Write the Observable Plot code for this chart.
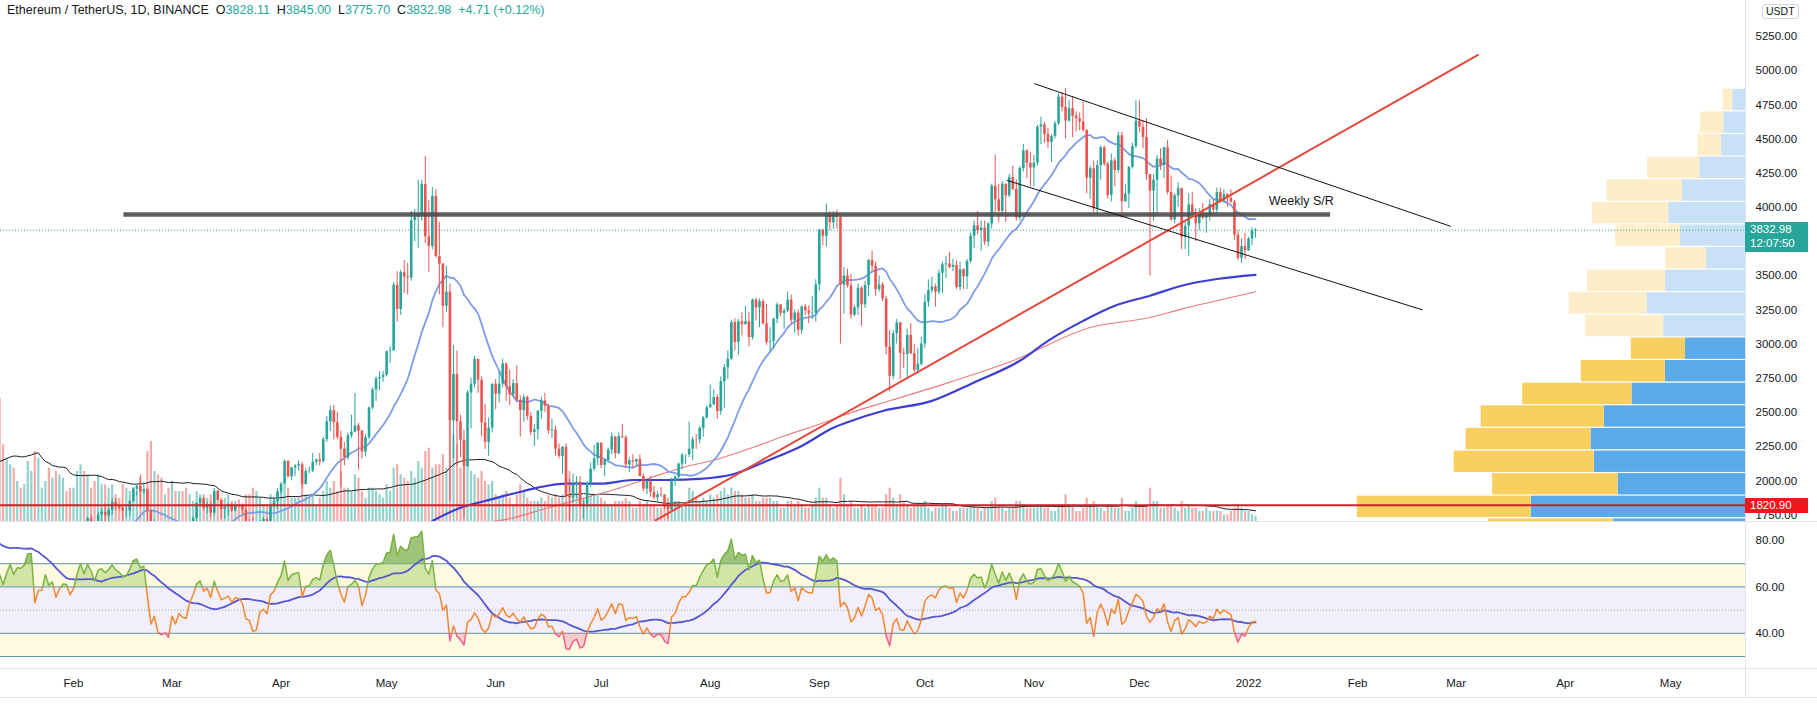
<!DOCTYPE html>
<html><head><meta charset="utf-8">
<script src="https://cdn.jsdelivr.net/npm/d3@7"></script>
<script src="https://cdn.jsdelivr.net/npm/@observablehq/plot@0.6"></script>
<style>
body{margin:0;background:#fff;}
#wrap{position:relative;width:1817px;height:707px;overflow:hidden;background:#fff;font-family:"Liberation Sans",Arial,sans-serif;}
.hl{position:absolute;background:#e0e3eb;}
.lbl{position:absolute;color:#fff;font-size:11.5px;line-height:14px;padding-left:5px;box-sizing:border-box;}
</style></head><body><div id="wrap"></div>
<script>
// ---------------- DATA ----------------
const startDay = "2021-01-11";
const warmupClose = [568,590,586,588,636,642,654,659,638,608,635,584,612,626,635,683,731,731,751,737,730,774,975,1040,1100,1207,1225,1224,1281,1262];
const warmupVolume = [1300,1000,800,1000,1300,1400,1100,1200,1000,1200,1500,3900,3500,2500,2800,2000,1900,1300,1500];
const close = [
1090,1044,1131,1218,1171,1233,1231,1257,1377,1382,1122,1232,1233,1392,1324,1357,1253,1332,1383,1381,1314,
1369,1515,1660,1593,1723,1680,1614,1750,1769,1744,1784,1843,1814,1800,1779,1781,1848,1938,1960,1919,1935,1778,1570,1626,1473,1446,1459,1416,
1564,1492,1575,1541,1532,1654,1724,1834,1868,1799,1826,1764,1924,1855,1791,1806,1823,1782,1818,1813,1785,1680,1669,1585,1594,1701,1717,1690,1817,1846,1919,
1977,2143,2029,2093,2107,2118,1972,2068,2072,2135,2153,2140,2301,2432,2513,2425,2318,2232,2168,2330,2356,2402,2363,2211,2316,2533,2664,2746,2756,2772,
2945,2950,3431,3253,3522,3490,3484,3903,3928,3952,4168,3785,3715,4079,3641,3585,3277,3380,2440,2777,2432,2297,2104,2643,2706,2888,2736,2424,2282,2386,2706,
2634,2707,2855,2688,2630,2711,2589,2514,2610,2472,2354,2372,2508,2585,2546,2365,2371,2231,2178,2245,1889,1874,1967,1990,1813,1829,1981,2085,2161,2274,
2113,2150,2226,2322,2198,2323,2316,2116,2147,2138,2155,2032,1940,1994,1916,1876,1898,1895,1820,1788,1994,2026,2122,2187,2189,2231,2300,2299,2383,2461,2533,
2556,2609,2507,2725,2827,2890,3157,3012,3163,3141,3164,3048,3322,3265,3310,3148,3011,3017,3182,3287,3225,3242,3322,3174,3227,3101,3272,3243,3224,3226,3433,
3834,3789,3941,3887,3952,3927,3431,3498,3427,3212,3266,3409,3287,3429,3612,3570,3398,3433,3330,2977,2764,3077,3155,2932,2925,3064,2930,2808,2853,3001,
3307,3391,3418,3380,3518,3580,3587,3561,3576,3415,3544,3492,3605,3789,3866,3830,3848,3746,3878,4155,4055,3971,4170,4084,4218,4132,3923,4285,4414,4322,4288,
4324,4587,4603,4533,4476,4519,4612,4806,4732,4632,4722,4667,4648,4625,4562,4214,4283,3991,4305,4436,4317,4088,4340,4270,4524,4041,4098,4293,4445,4631,
4587,4512,4240,4119,4199,4353,4308,4436,4110,3908,4085,4137,3782,3862,4018,3960,3881,3960,3922,3939,4020,3981,4108,4047,4093,4066,4037,3797,3628,3713,3682,
3769,3828.27,3832.98];
const high = [
1266,1150,1135,1249,1250,1290,1260,1260,1440,1400,1385,1270,1270,1420,1476,1370,1360,1350,1440,1395,1385,
1375,1540,1672,1695,1735,1750,1680,1765,1800,1830,1800,1870,1870,1830,1820,1825,1860,1950,1970,2042,1990,1940,1785,1715,1670,1560,1525,1470,
1570,1600,1650,1622,1546,1670,1735,1840,1875,1880,1840,1850,1945,1930,1860,1820,1835,1835,1830,1860,1830,1820,1720,1730,1630,1710,1730,1730,1830,1860,1945,
1990,2150,2145,2100,2120,2145,2135,2090,2100,2200,2160,2200,2320,2470,2545,2550,2500,2365,2280,2350,2480,2640,2420,2370,2340,2540,2680,2760,2798,2800,
2950,2985,3450,3530,3540,3610,3590,3970,3985,4200,4200,4372,4050,4145,4130,3890,3590,3570,3440,2990,2950,2480,2370,2660,2750,2910,2890,2760,2560,2460,2710,
2740,2800,2890,2860,2810,2740,2840,2620,2630,2620,2500,2410,2515,2610,2640,2560,2450,2400,2270,2250,2270,2010,2050,2030,2030,1860,1990,2130,2260,2280,
2280,2160,2240,2350,2320,2350,2410,2330,2170,2190,2160,2190,2050,2000,2030,1960,1920,1950,1900,1830,2020,2040,2130,2200,2190,2430,2320,2340,2400,2470,2550,
2700,2665,2630,2760,2850,2950,3175,3185,3180,3230,3275,3230,3330,3335,3330,3325,3290,3120,3190,3300,3285,3260,3380,3360,3250,3250,3280,3290,3280,3350,3470,
3840,3840,4025,3970,3970,3980,3950,3560,3550,3510,3280,3440,3420,3460,3620,3680,3600,3500,3450,3350,3100,3100,3180,3160,2970,3110,3150,3000,2970,3050,
3360,3470,3490,3440,3540,3600,3640,3670,3620,3610,3600,3550,3620,3810,3900,3970,3900,3900,3890,4170,4380,4170,4190,4160,4240,4300,4200,4300,4460,4420,4400,
4380,4600,4660,4620,4580,4530,4630,4830,4840,4868,4780,4810,4700,4690,4770,4570,4300,4340,4340,4450,4450,4330,4390,4360,4550,4550,4170,4300,4470,4780,
4780,4630,4650,4240,4240,4380,4430,4440,4490,4230,4100,4180,4140,3890,4100,4110,3990,3990,4030,3960,4060,4060,4140,4140,4130,4100,4130,4050,3830,3770,3810,
3780,3850,3845];
const low = [
920,1010,1016,1100,1050,1160,1165,1190,1250,1280,1110,1030,1200,1220,1300,1260,1220,1230,1270,1320,1290,
1300,1350,1500,1520,1580,1650,1550,1560,1700,1690,1700,1750,1780,1780,1660,1730,1740,1840,1890,1800,1900,1560,1370,1510,1460,1400,1430,1290,
1410,1470,1490,1510,1440,1520,1635,1700,1810,1780,1760,1730,1740,1850,1720,1720,1740,1770,1770,1800,1750,1670,1650,1570,1550,1590,1680,1680,1680,1800,1790,
1900,1970,2020,2000,2030,2070,1940,1970,2050,2060,2110,2110,2130,2280,2360,2300,2300,1950,2110,2150,2310,2350,2080,2160,2175,2300,2520,2580,2660,2720,
2760,2860,2950,3160,3210,3370,3360,3460,3750,3700,3900,3735,3525,3690,3630,3360,3120,3230,1850,2160,2110,2170,1730,2100,2380,2680,2640,2320,2230,2180,2350,
2520,2570,2680,2580,2550,2610,2580,2320,2430,2440,2330,2250,2300,2450,2500,2340,2310,2180,2160,2050,1880,1700,1840,1870,1800,1720,1800,1950,2070,2110,
2090,2030,2140,2190,2160,2190,2310,2090,2060,2090,2100,2030,1920,1900,1880,1860,1850,1880,1790,1718,1780,1960,2000,2080,2120,2170,2150,2230,2270,2320,2450,
2540,2550,2450,2480,2530,2740,2880,2950,2920,3060,3140,2980,3030,3170,3120,3140,2990,2940,2960,3150,3200,3110,3230,3150,3080,3060,3070,3210,3150,3180,3160,
3390,3720,3710,3830,3840,3840,3000,3220,3410,3180,3200,3210,3130,3260,3350,3530,3350,3380,3310,2920,2650,2740,3000,2740,2820,2740,2920,2790,2780,2840,
2970,3270,3370,3270,3360,3370,3480,3550,3530,3400,3390,3400,3400,3590,3700,3800,3680,3720,3710,3840,3960,3890,3950,3890,4070,4120,3900,3900,4260,4210,4150,
4150,4300,4460,4470,4430,4330,4500,4600,4700,4500,4620,4510,4550,4560,4550,4100,4060,3960,3950,4200,4300,4060,4040,4150,4250,3920,4040,3990,4280,4430,
4550,4430,4200,3500,3900,3950,4270,4210,4090,3900,3880,4000,3690,3690,3640,3950,3750,3830,3910,3810,3900,3950,3950,4030,4030,4000,4030,3760,3610,3590,3620,
3680,3720,3775.7];
const lastOpen = 3828.11;
// volume, thousand ETH
const volume = [
3700,2300,1900,1700,1600,1200,1000,1100,1800,1500,2100,1900,1000,1200,1600,1300,1500,1400,1300,900,1000,
1000,1500,1700,1500,1400,1000,1200,1400,1100,1100,1000,1100,800,700,1100,1000,900,1000,900,1300,900,2100,2400,1500,1400,1300,800,1000,
1200,900,900,900,1000,800,600,900,800,800,700,800,800,600,700,700,800,600,600,500,500,800,800,1000,900,700,500,500,800,700,900,
900,1100,1000,700,700,700,1100,800,700,800,500,700,900,1200,1000,1200,900,1500,1000,1000,900,1400,1300,900,700,1000,1000,900,800,700,
1100,900,1600,1700,1400,1300,1200,1500,1300,1800,1600,2100,2200,1600,1700,1700,2000,1600,3200,2600,2300,1600,2400,1800,1500,1400,1300,1500,1200,1100,1200,
800,700,800,900,700,500,800,1100,900,700,600,600,600,700,600,800,700,800,700,800,1400,1500,1000,800,900,700,700,800,800,800,
700,600,500,500,600,600,600,700,600,400,400,600,500,600,500,500,400,400,500,700,900,600,600,500,500,1000,900,700,600,700,600,
800,700,800,900,1000,800,1000,900,900,800,700,700,800,600,600,700,700,700,600,600,400,400,600,600,500,600,500,400,400,500,700,
1000,700,700,500,400,500,1300,800,500,600,400,400,500,400,500,500,500,400,400,800,1000,700,500,800,600,500,400,500,500,500,
600,400,300,400,400,500,500,400,300,300,400,400,400,500,500,400,300,400,400,600,700,500,400,300,400,400,600,600,500,400,400,
400,500,500,400,400,300,300,500,500,800,500,500,300,300,400,700,500,600,500,400,300,500,500,400,400,700,300,300,400,600,
500,400,500,1000,600,600,400,400,500,500,400,300,600,400,500,400,400,300,300,400,300,300,300,300,200,200,300,400,500,400,300,
300,200,150];

// moving averages
const ma200Dates = ["2021-05-14","2021-05-22","2021-05-29","2021-06-07","2021-06-13","2021-06-21","2021-07-01","2021-07-10","2021-07-20","2021-07-29","2021-08-08","2021-08-17","2021-08-27","2021-09-05","2021-09-10","2021-09-19","2021-10-03","2021-10-15","2021-10-28","2021-11-05","2021-11-15","2021-11-24","2021-12-04","2021-12-13","2021-12-23","2022-01-03"];
const ma200Values = [1706,1803,1852,1913,1950,1979,1979,2006,2006,2014,2052,2145,2255,2389,2438,2511,2585,2720,2878,3024,3170,3280,3354,3427,3476,3507];
const smaRedDates = ["2021-05-27","2021-06-04","2021-06-16","2021-07-05","2021-07-15","2021-07-24","2021-08-03","2021-08-13","2021-08-22","2021-09-01","2021-09-10","2021-09-21","2021-10-08","2021-10-26","2021-11-17","2021-12-04","2021-12-13","2021-12-23","2022-01-03"];
const smaRedValues = [1690,1718,1803,1938,2023,2096,2158,2243,2328,2414,2499,2585,2720,2878,3121,3195,3256,3317,3383];
const rsiMaPeriod = 20;

// drawings
const trendDates = ["2021-07-16T10:00Z","2022-03-07T06:00Z"];
const trendPrices = [1710,5115];
const channelUpperDates = ["2021-11-01T06:00Z","2022-02-27T10:00Z"];
const channelUpperPrices = [4904,3862];
const channelLowerDates = ["2021-10-24T10:00Z","2022-02-19T09:00Z"];
const channelLowerPrices = [4197,3251];
const srLevel = 3948;
const srDates = ["2021-02-15T08:00Z","2022-01-24T08:00Z"];
const srLabel = "Weekly S/R";
const srLabelAt = {date:"2022-01-06T18:00Z", price:4050};
const pocPrice = 1820.90;
const currentPrice = 3832.98;
const countdown = "12:07:50";

// visible range volume profile (M ETH per row)
const profileRowLow = [4703,4537,4372,4207,4041,3876,3711,3545,3380,3215,3049,2884,2719,2553,2388,2223,2057,1892,1727,1561];
const profileRowSize = 165.3;
const profileUp =   [0.89,1.52,1.70,3.20,4.41,5.37,4.55,2.73,5.60,6.88,5.72,4.20,5.60,7.93,9.87,10.80,10.57,8.91,14.98,9.22];
const profileDown = [0.68,1.63,1.63,3.64,5.27,5.32,4.53,2.85,5.44,5.44,5.48,3.78,5.88,7.65,8.61,8.73,9.80,8.77,12.16,8.75];
const valueAreaFrom = 11; // row index (0-based) where value area starts

const priceTicks = [1750,2000,2250,2500,2750,3000,3250,3500,4000,4250,4500,4750,5000,5250];
const rsiTicks = [40,60,80];
const monthTicks = ["2021-02-01","2021-03-01","2021-04-01","2021-05-01","2021-06-01","2021-07-01","2021-08-01","2021-09-01","2021-10-01","2021-11-01","2021-12-01","2022-01-01","2022-02-01","2022-03-01","2022-04-01","2022-05-01"];
const header = {name:"Ethereum / TetherUS, 1D, BINANCE", O:"3828.11", H:"3845.00", L:"3775.70", C:"3832.98", chg:"+4.71 (+0.12%)"};

// ---------------- BUILD ----------------
if (close.length!==high.length||close.length!==low.length||close.length!==volume.length) throw new Error("len "+close.length+" "+high.length+" "+low.length+" "+volume.length);
const DAY = 864e5;
const t0 = new Date(startDay+"T00:00:00Z").getTime();
const nW = warmupClose.length;
const closesAll = warmupClose.concat(close);
function sma(arr,n){return arr.map((_,i)=> i<n-1?NaN:d3.mean(arr.slice(i-n+1,i+1)));}
function rsi(arr,n=14){const out=new Array(arr.length).fill(NaN);let g=0,l=0;
  for(let i=1;i<arr.length;i++){const ch=arr[i]-arr[i-1];const up=Math.max(ch,0),dn=Math.max(-ch,0);
    if(i<=n){g+=up;l+=dn;if(i===n){g/=n;l/=n;out[i]=100-100/(1+g/l);}}
    else{g=(g*(n-1)+up)/n;l=(l*(n-1)+dn)/n;out[i]=l===0?100:100-100/(1+g/l);}}
  return out;}
const sma20 = sma(closesAll,20).slice(nW);
const rsiAll = rsi(closesAll);
const rsiV = rsiAll.slice(nW);
const rsiMA = sma(rsiAll,rsiMaPeriod).slice(nW);
const volMA = sma(warmupVolume.concat(volume),20).slice(warmupVolume.length);

const candles = close.map((c,i)=>({date:new Date(t0+i*DAY), open:i?close[i-1]:warmupClose[nW-1], high:high[i], low:low[i], close:c, volume:volume[i], sma20:sma20[i], volMA:volMA[i], rsi:rsiV[i], rsiMA:rsiMA[i]}));
candles[candles.length-1].open = lastOpen;
candles.forEach(d=>{d.up=d.close>=d.open;});

const ma200 = ma200Dates.map((d,i)=>({date:new Date(d+"T00:00:00Z"), v:ma200Values[i]}));
const smaRed = smaRedDates.map((d,i)=>({date:new Date(d+"T00:00:00Z"), v:smaRedValues[i]}));
const pts2 = (ds,ps)=>ds.map((d,i)=>({date:new Date(d), v:ps[i]}));
const trend = pts2(trendDates,trendPrices), chU = pts2(channelUpperDates,channelUpperPrices), chL = pts2(channelLowerDates,channelLowerPrices);
const rows = profileRowLow.map((lo,i)=>({lo, hi:lo+profileRowSize, up:profileUp[i], down:profileDown[i], va:i>=valueAreaFrom}));

const W=1817, AX=72, PH=521;
const xDomain=[new Date("2021-01-11T06:00:00Z"), new Date("2022-05-22T06:30:00Z")];
const yDomain=[1702.5,5513.3];
const FONT='"Liberation Sans", Arial, sans-serif';
const wrap=document.getElementById("wrap");
function place(el,top){el.style.position="absolute";el.style.left="0px";el.style.top=top+"px";wrap.appendChild(el);}
const UP="#26a69a", DN="#ef5350";

// volume layer
const VH=140;
place(Plot.plot({width:W,height:VH,marginLeft:0,marginRight:AX,marginTop:0,marginBottom:0,
  style:{background:"transparent",overflow:"visible"},
  x:{type:"utc",domain:xDomain,axis:null}, y:{domain:[0,4200],axis:null},
  marks:[
    Plot.ruleX(candles,{x:"date",y1:()=>0,y2:"volume",stroke:d=>d.up?"rgba(38,166,154,0.5)":"rgba(239,83,80,0.5)",strokeWidth:2.2,clip:true}),
    Plot.line(candles.filter(d=>!isNaN(d.volMA)),{x:"date",y:"volMA",stroke:"#1e1e1e",strokeWidth:1,clip:true})
  ]}), PH-VH);

// volume profile layer
place(Plot.plot({width:W,height:PH,marginLeft:0,marginRight:AX,marginTop:0,marginBottom:0,
  style:{background:"transparent"},
  x:{domain:[0,122],reverse:true,axis:null}, y:{domain:yDomain,axis:null},
  marks:[
    Plot.rect(rows,{x1:()=>0,x2:"up",y1:"lo",y2:"hi",fill:d=>d.va?"#5aaae9":"#c8e1f6",insetTop:0.6,insetBottom:0.6,clip:true}),
    Plot.rect(rows,{x1:"up",x2:d=>d.up+d.down,y1:"lo",y2:"hi",fill:d=>d.va?"#f9cf5f":"#fdedc9",insetTop:0.6,insetBottom:0.6,clip:true})
  ]}), 0);

// main price layer
const main = Plot.plot({width:W,height:PH,marginLeft:0,marginRight:AX,marginTop:0,marginBottom:0,
  style:{background:"transparent",fontFamily:FONT,fontSize:"11.5px",color:"#131722",overflow:"visible"},
  x:{type:"utc",domain:xDomain,axis:null},
  y:{domain:yDomain,axis:"right",ticks:priceTicks,tickSize:0,tickPadding:10,tickFormat:d=>d.toFixed(2),label:null},
  marks:[
    Plot.ruleY([currentPrice],{stroke:UP,strokeDasharray:"1,2",strokeWidth:1}),
    Plot.line(smaRed,{x:"date",y:"v",stroke:"#ec7b7b",strokeWidth:1.1,curve:"monotone-x",clip:true}),
    Plot.line(ma200,{x:"date",y:"v",stroke:"#3c3fd4",strokeWidth:2.2,curve:"monotone-x",clip:true}),
    Plot.line(candles.filter(d=>!isNaN(d.sma20)),{x:"date",y:"sma20",stroke:"#7e9ce6",strokeWidth:1.8,clip:true}),
    Plot.ruleX(candles,{x:"date",y1:"low",y2:"high",stroke:d=>d.up?UP:DN,strokeWidth:1,clip:true}),
    Plot.ruleX(candles,{x:"date",y1:"open",y2:"close",stroke:d=>d.up?UP:DN,strokeWidth:2.6,clip:true}),
    Plot.ruleY([pocPrice],{stroke:"#c8232a",strokeWidth:2}),
    Plot.ruleY([{y:srLevel,x1:new Date(srDates[0]),x2:new Date(srDates[1])}],{y:"y",x1:"x1",x2:"x2",stroke:"#4d4d4d",strokeOpacity:0.9,strokeWidth:4.5}),
    Plot.line(trend,{x:"date",y:"v",stroke:"#e5473b",strokeWidth:2,clip:true}),
    Plot.line(chU,{x:"date",y:"v",stroke:"#111",strokeWidth:1}),
    Plot.line(chL,{x:"date",y:"v",stroke:"#111",strokeWidth:1}),
    Plot.text([srLabelAt],{x:d=>new Date(d.date),y:"price",text:()=>srLabel,textAnchor:"start",fontSize:12.5,fill:"#131722"})
  ]});
place(main,0);

// RSI layer with crossing points for colouring
const pts=[];
candles.forEach((d,i)=>{const t=d.date.getTime(),v=d.rsi;
  if(i>0){const tp=candles[i-1].date.getTime(),vp=candles[i-1].rsi;const cr=[];
    for(const th of [40,60,70]) if((vp-th)*(v-th)<0) cr.push({t:tp+(t-tp)*(th-vp)/(v-vp),v:th});
    cr.sort((a,b)=>a.t-b.t);pts.push(...cr);}
  pts.push({t,v});});
pts.forEach(p=>p.date=new Date(p.t));
const segs=[];let seg=0,prev=null;
for(let k=0;k<pts.length-1;k++){const a=pts[k],b=pts[k+1],m=(a.v+b.v)/2;
  const c=m>60?"#79b443":m<40?"#ec6190":"#f0892e";
  if(c!==prev){seg++;segs.push({date:a.date,v:a.v,seg,c});prev=c;}
  segs.push({date:b.date,v:b.v,seg,c});}
const bands=[{lo:60,hi:70,fill:"#fdfae0"},{lo:40,hi:60,fill:"#f3eefb"},{lo:30,hi:40,fill:"#fdfae0"}];
const RH=185, RB=39;
place(Plot.plot({width:W,height:RH,marginLeft:0,marginRight:AX,marginTop:0,marginBottom:RB,
  style:{background:"transparent",fontFamily:FONT,fontSize:"11.5px",color:"#131722",overflow:"visible"},
  x:{type:"utc",domain:xDomain,ticks:monthTicks.map(d=>new Date(d+"T00:00:00Z")),tickFormat:d=>d.getUTCMonth()===0?String(d.getUTCFullYear()):d3.utcFormat("%b")(d),tickSize:0,tickPadding:10,label:null},
  y:{domain:[24.83,87.76],axis:"right",ticks:rsiTicks,tickSize:0,tickPadding:10,tickFormat:d=>d.toFixed(2),label:null},
  marks:[
    Plot.rect(bands,{x1:()=>xDomain[0],x2:()=>xDomain[1],y1:"lo",y2:"hi",fill:"fill"}),
    Plot.ruleY([70,60,40,30],{stroke:"#5a93aa",strokeWidth:1}),
    Plot.ruleY([50],{stroke:"#9aa6b8",strokeDasharray:"1,2",strokeWidth:1}),
    Plot.areaY(pts,{x:"date",y1:()=>60,y2:d=>Math.max(60,d.v),fill:"rgba(139,195,74,0.38)"}),
    Plot.areaY(pts,{x:"date",y1:()=>70,y2:d=>Math.max(70,d.v),fill:"rgba(104,159,56,0.5)"}),
    Plot.areaY(pts,{x:"date",y1:d=>Math.min(40,d.v),y2:()=>40,fill:"rgba(240,98,146,0.3)"}),
    Plot.line(candles,{x:"date",y:"rsiMA",stroke:"#5458d0",strokeWidth:1.8}),
    Plot.line(segs,{x:"date",y:"v",z:"seg",stroke:"c",strokeWidth:1.5})
  ]}), PH+1);

// separators
function hl(l,t,w,h){const d=document.createElement("div");d.className="hl";Object.assign(d.style,{left:l+"px",top:t+"px",width:w+"px",height:h+"px"});wrap.appendChild(d);}
hl(W-AX,0,1,697); hl(0,PH,W,1); hl(0,PH+1+RH-RB,W,1); hl(0,697,W,1);

// axis labels (positioned by the plot's y scale)
const ys=main.scale("y"); const yOf=ys.apply?ys.apply:d3.scaleLinear(ys.domain,ys.range);
function box(lines,yc,bg,h){const d=document.createElement("div");d.className="lbl";
  Object.assign(d.style,{left:(W-AX)+"px",top:(yc-7.5)+"px",width:"63px",height:h+"px",background:bg,fontFamily:FONT});
  d.innerHTML=lines.join("<br>");wrap.appendChild(d);}
box([currentPrice.toFixed(2),countdown],yOf(currentPrice),UP,30);
box([pocPrice.toFixed(2)],yOf(pocPrice)+1,"#f0161b",15);
const u=document.createElement("div");
Object.assign(u.style,{position:"absolute",left:"1762px",top:"4px",padding:"0 3px",border:"1px solid #d1d4dc",borderRadius:"3px",fontSize:"10.5px",lineHeight:"13px",color:"#131722",background:"#fff",fontFamily:FONT});
u.textContent="USDT";wrap.appendChild(u);

// header
const h=document.createElement("div");
Object.assign(h.style,{position:"absolute",left:"7px",top:"3px",fontSize:"12.5px",color:"#131722",whiteSpace:"pre",fontFamily:FONT});
const g=s=>`<span style="color:${UP}">${s}</span>`;
h.innerHTML=`${header.name}  O${g(header.O)}  H${g(header.H)}  L${g(header.L)}  C${g(header.C)}  ${g(header.chg)}`;
wrap.appendChild(h);
</script></body></html>
